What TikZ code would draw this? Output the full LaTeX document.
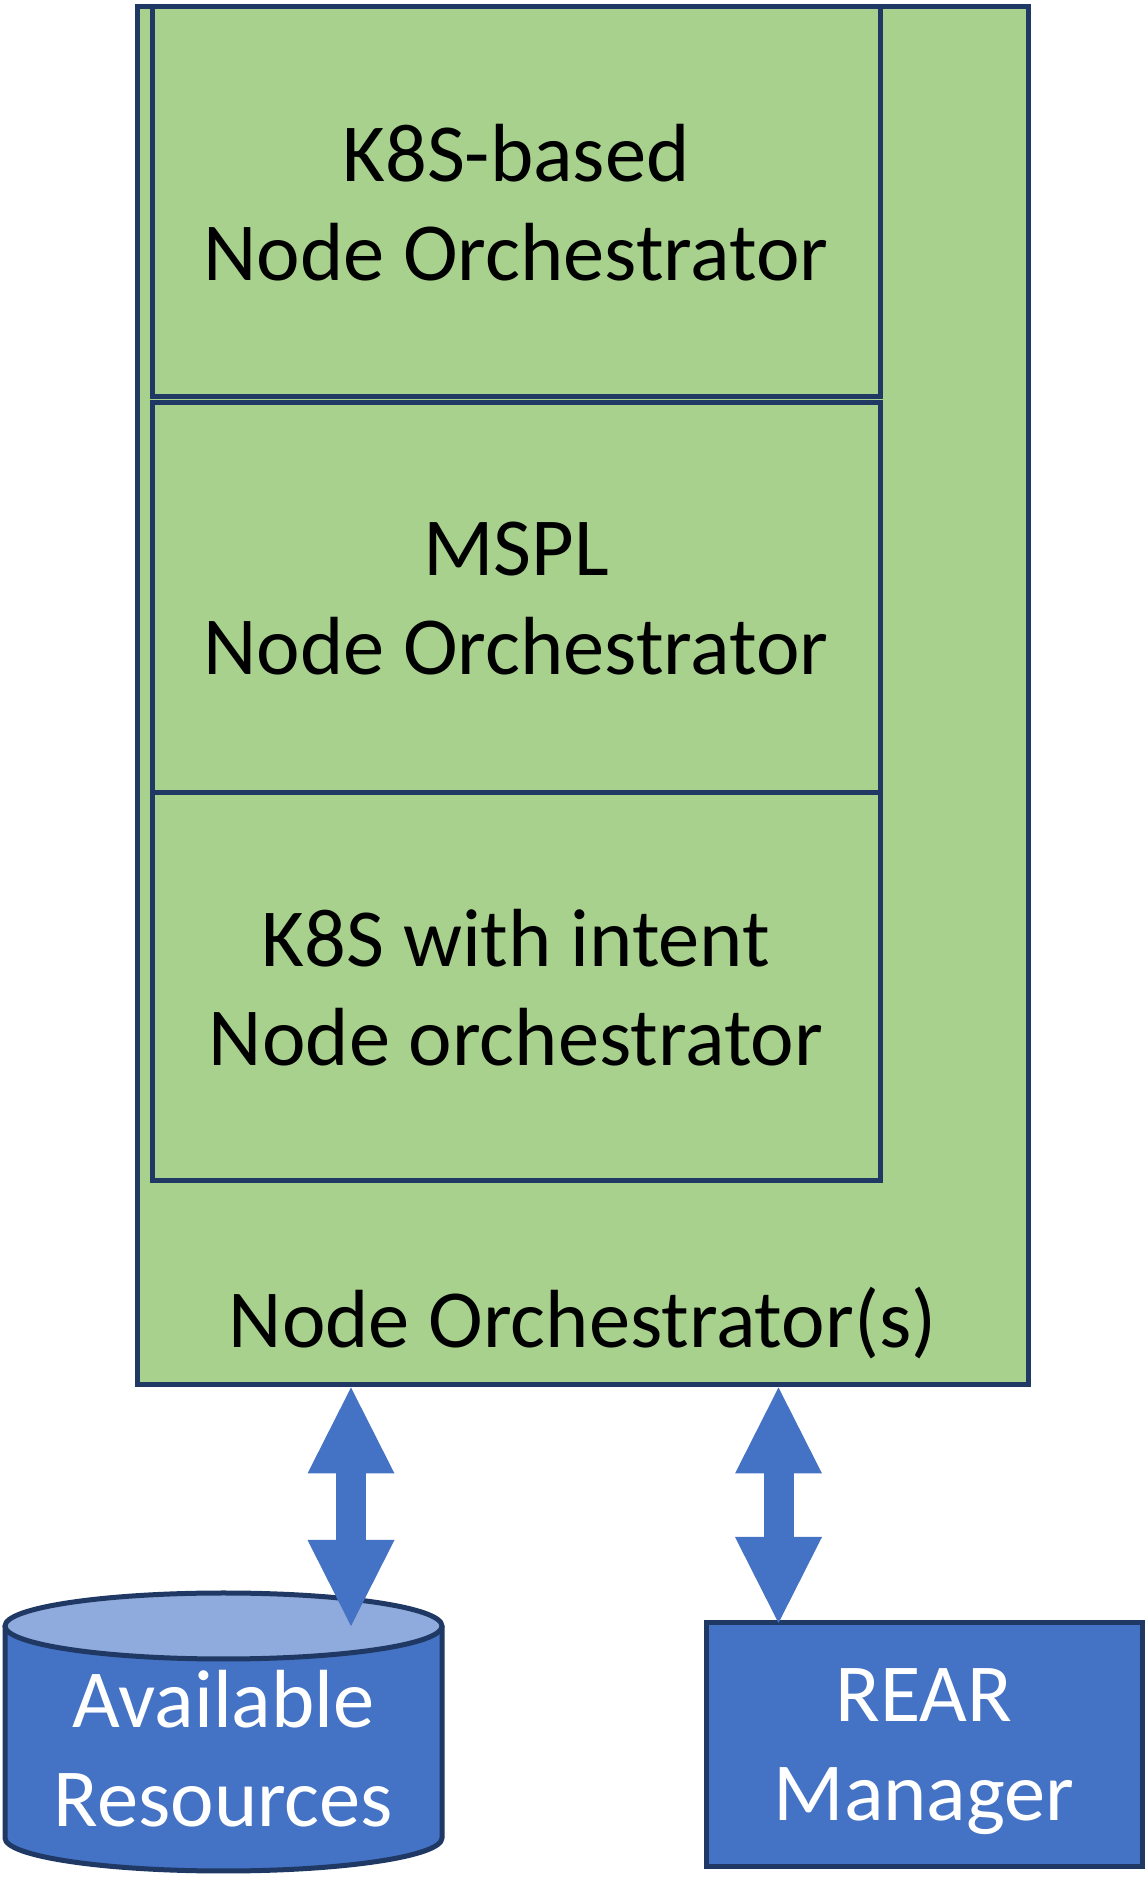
\documentclass[tikz,border=0pt]{standalone}
\usepackage{fontspec}
\setmainfont{Carlito}
\usetikzlibrary{arrows.meta,calc}
\definecolor{ngreen}{HTML}{A9D18E}
\definecolor{nnavy}{HTML}{1F3864}
\definecolor{nblue}{HTML}{4472C4}
\definecolor{nlight}{HTML}{8FAADC}
\begin{document}
\begin{tikzpicture}[x=1pt,y=1pt,
  bigfont/.style={font=\fontsize{82.5}{99}\selectfont},
  greenbox/.style={draw=nnavy, fill=ngreen, line width=5pt, inner sep=0pt, bigfont, align=center, text depth=0pt},
  bluebox/.style={draw=nnavy, fill=nblue, line width=5pt, inner sep=0pt, bigfont, align=center, text=white, text depth=0pt},
  cyltext/.style={inner sep=0pt, bigfont, align=center, text=white, text depth=0pt},
  outline/.style={draw=nnavy, line width=5pt},
  dblarrow/.style={draw=nblue, line width=30pt, >={Triangle[length=86pt 0 0,width=87pt 0 0,line width=0pt 0 0]}, <->}
]
\useasboundingbox (0,0) rectangle (1145,1902);
% outer container
\node[greenbox, minimum width=891pt, minimum height=1378pt] (outer) at (582.5,1206) {};
\node[bigfont, anchor=base, inner sep=0pt] (outerlabel) at (582.5,554) {Node Orchestrator(s)};
% inner boxes
\node[greenbox, minimum width=728pt, minimum height=390pt] (k8s) at (516,1700) {K8S-based\\Node Orchestrator};
\node[greenbox, minimum width=728pt, minimum height=390pt] (mspl) at (516,1304) {MSPL\\Node Orchestrator};
\node[greenbox, minimum width=728pt, minimum height=388pt] (intent) at (516,915) {K8S with intent\\Node orchestrator};
% cylinder
\fill[nblue] (5,276) -- (5,64) arc[start angle=180,end angle=360,x radius=218.5,y radius=33] -- (442,276) -- cycle;
\draw[outline] (5,276) -- (5,64) arc[start angle=180,end angle=360,x radius=218.5,y radius=33] -- (442,276);
\draw[outline, fill=nlight] (223.5,276) ellipse[x radius=218.5,y radius=33];
\coordinate (cyltop) at (223.5,276);
\node[cyltext] (cyl) at (223.5,154) {Available\\Resources};
% REAR manager
\node[bluebox, minimum width=436pt, minimum height=244pt] (rear) at (924,157) {REAR\\Manager};
% arrows
\coordinate (a1b) at ($(cyltop)+(127.5,0)$);
\coordinate (a2b) at ($(rear.north west)+(75,-2.5)$);
\draw[dblarrow] (outer.south -| a1b) -- (a1b);
\draw[dblarrow] (outer.south -| a2b) -- (a2b);
\end{tikzpicture}
\end{document}
